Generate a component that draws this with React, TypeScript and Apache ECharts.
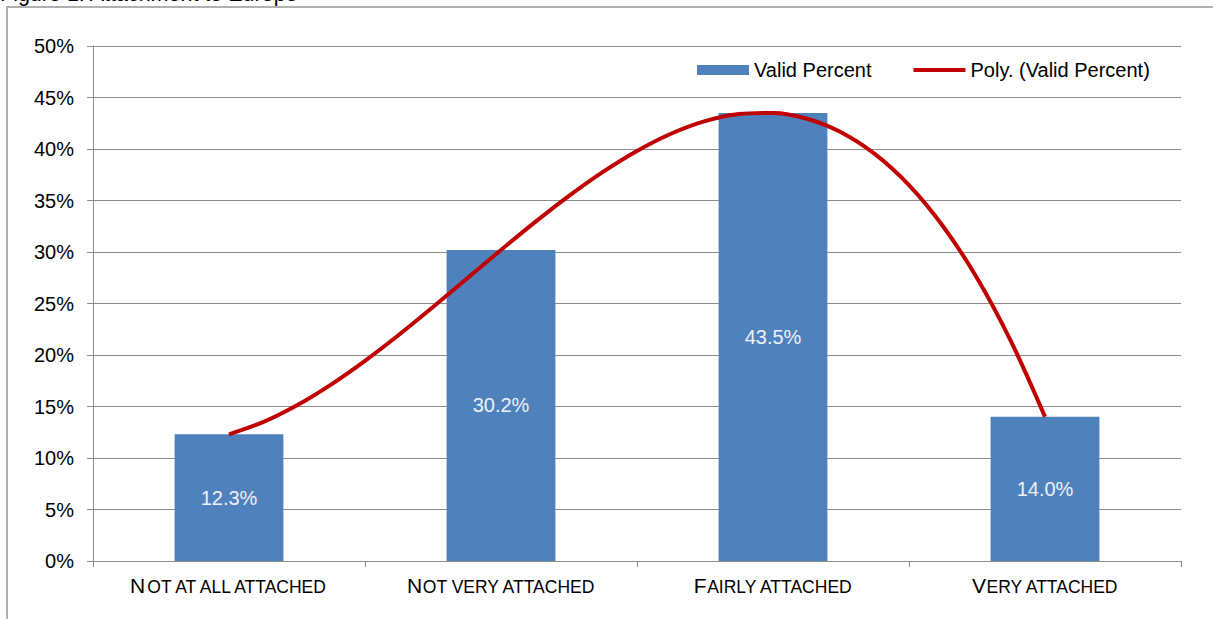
import React, { useEffect, useRef } from "react";
import * as echarts from "echarts";

const title = "Figure 1: Attachment to Europe";
const categories = ["NOT AT ALL ATTACHED", "NOT VERY ATTACHED", "FAIRLY ATTACHED", "VERY ATTACHED"];
const validPercent = [12.3, 30.2, 43.5, 14.0];
const yTicks = { min: 0, max: 50, interval: 5 };
// Points: [category position (0..4), percent]
const trendPoints: [number, number][] = [
  [0.5, 12.3],
  [0.625, 13.48],
  [0.75, 15.12],
  [0.875, 17.13],
  [1.0, 19.44],
  [1.125, 21.97],
  [1.25, 24.66],
  [1.375, 27.43],
  [1.5, 30.2],
  [1.625, 32.9],
  [1.75, 35.45],
  [1.875, 37.78],
  [2.0, 39.81],
  [2.125, 41.48],
  [2.25, 42.7],
  [2.375, 43.4],
  [2.5, 43.5],
  [2.625, 42.94],
  [2.75, 41.63],
  [2.875, 39.5],
  [3.0, 36.49],
  [3.125, 32.5],
  [3.25, 27.48],
  [3.375, 21.33],
  [3.5, 14.0],
];

const FONT = "'Liberation Sans', Arial, sans-serif";
const GRID_COLOR = "#8c8c8c";

export default function App() {
  const ref = useRef<HTMLDivElement>(null);
  useEffect(() => {
    if (!ref.current) return;
    const chart = echarts.init(ref.current, undefined, { renderer: "svg" });
    chart.setOption({
      animation: false,
      backgroundColor: "#ffffff",
      textStyle: { fontFamily: FONT },
      graphic: [
        {
          type: "polyline",
          shape: { points: [[7, 619], [7, 7], [1213, 7]] },
          style: { stroke: "#b0b0b0", lineWidth: 2, fill: "none" },
          silent: true,
        },
        {
          type: "text",
          x: 0,
          y: 5,
          style: {
            text: title,
            font: `21.5px ${FONT}`,
            fill: "#000",
            verticalAlign: "bottom",
          },
        },
      ],
      legend: {
        left: 692,
        top: 55,
        itemWidth: 52,
        itemHeight: 10,
        itemGap: 42,
        textStyle: { fontSize: 20, color: "#000", fontFamily: FONT },
        data: [
          { name: "Valid Percent", icon: "rect" },
          { name: "Poly. (Valid Percent)", icon: "path://M0,0 L52,0 L52,4 L0,4 Z" },
        ],
      },
      grid: { left: 93, right: 32, top: 46, bottom: 58, containLabel: false },
      xAxis: [
        {
          type: "category",
          data: categories,
          axisLine: { lineStyle: { color: GRID_COLOR, width: 1 } },
          axisTick: { show: true, length: 6, lineStyle: { color: GRID_COLOR } },
          axisLabel: {
            margin: 11,
            color: "#000",
            formatter: (v: string) => `{a|${v.charAt(0)}}{b|${v.slice(1)}}`,
            rich: {
              a: { fontSize: 21, fontFamily: FONT, color: "#000", lineHeight: 24, verticalAlign: "bottom" },
              b: { fontSize: 17.5, fontFamily: FONT, color: "#000", lineHeight: 24, verticalAlign: "bottom" },
            },
          },
        },
        {
          type: "value",
          min: 0,
          max: 4,
          show: false,
        },
      ],
      yAxis: {
        type: "value",
        min: yTicks.min,
        max: yTicks.max,
        interval: yTicks.interval,
        axisLine: { show: true, lineStyle: { color: GRID_COLOR, width: 1 } },
        axisTick: { show: true, length: 6, lineStyle: { color: GRID_COLOR } },
        splitLine: { show: true, lineStyle: { color: GRID_COLOR, width: 1 } },
        axisLabel: {
          formatter: "{value}%",
          fontSize: 20,
          color: "#000",
          margin: 19,
          fontFamily: FONT,
        },
      },
      series: [
        {
          name: "Valid Percent",
          type: "bar",
          xAxisIndex: 0,
          data: validPercent,
          barWidth: "40%",
          itemStyle: { color: "#4f81bd" },
          label: {
            show: true,
            position: "inside",
            formatter: (p: any) => `${Number(p.value).toFixed(1)}%`,
            fontSize: 20,
            color: "#eef2f8",
            fontFamily: FONT,
          },
        },
        {
          name: "Poly. (Valid Percent)",
          type: "line",
          xAxisIndex: 1,
          data: trendPoints,
          smooth: 0.3,
          symbol: "none",
          lineStyle: { color: "#c00000", width: 4 },
          itemStyle: { color: "#c00000" },
          z: 5,
        },
      ],
    });
    return () => chart.dispose();
  }, []);
  return (
    <div
      ref={ref}
      style={{ position: "fixed", left: 0, top: 0, width: 1213, height: 619, background: "#fff" }}
    />
  );
}
